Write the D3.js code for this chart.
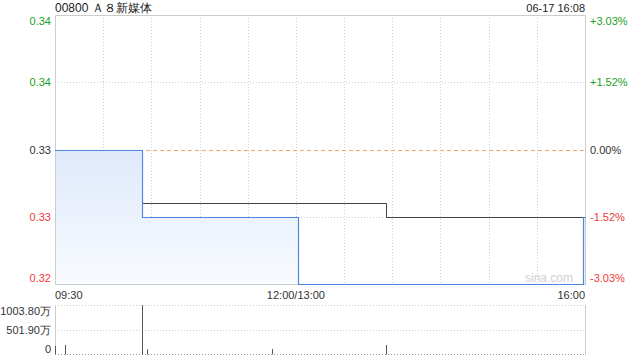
<!DOCTYPE html>
<html>
  <head>
    <meta charset="utf-8">
    <style media="screen">
      body { margin: 0; background: #fff; }
      svg { font-family: "Liberation Sans", Arial, sans-serif; }
    </style>
  </head>
  <body>
    <svg></svg>
    <script src="https://d3js.org/d3.v7.min.js"></script>
    <script type="text/javascript">

      // 分时价格 (step changes)
      var priceTimes = ["09:30", "10:24", "13:01", "15:59", "16:00"];
      var priceValues = [0.330, 0.325, 0.320, 0.325, 0.325];

      // 均价
      var avgTimes = ["09:30", "10:24", "13:56", "16:00"];
      var avgValues = [0.330, 0.3260, 0.325, 0.325];

      // 成交量 (万)
      var volTimes = ["09:30", "09:36", "10:24", "10:27", "11:45", "13:56"];
      var volValues = [164, 184, 1003.8, 96, 102, 184];

      var priceTicks = [0.34, 0.335, 0.33, 0.325, 0.32];
      var priceLabels = ["0.34", "0.34", "0.33", "0.33", "0.32"];
      var pctLabels = ["+3.03%", "+1.52%", "0.00%", "-1.52%", "-3.03%"];
      var volTicks = [1003.8, 501.9, 0];
      var volLabels = ["1003.80万", "501.90万", "0"];
      var prevClose = 0.33;

      var svgWidth = 640, svgHeight = 360;
      var plotLeft = 55, plotRight = 585, plotTop = 15, plotBottom = 284;
      var volTop = 305, volBottom = 354;

      var svg = d3.select("svg")
        .attr("width", svgWidth)
        .attr("height", svgHeight)

      // 交易分钟 -> 索引 (午休跳过)
      function minuteIndex(t) {
        var p = t.split(":"), m = +p[0] * 60 + +p[1];
        return m <= 720 ? m - 570 : m - 780 + 150;
      }

      var x = d3.scaleLinear().domain([0, 330]).range([plotLeft, plotRight])
      var y = d3.scaleLinear().domain([0.32, 0.34]).range([plotBottom, plotTop])
      var yVol = d3.scaleLinear().domain([0, 1003.8]).range([volBottom, volTop])

      var red = "#f03a3a", green = "#1aa31a", dark = "#333";
      function tickColor(v) { return v > prevClose + 1e-9 ? green : (v < prevClose - 1e-9 ? red : dark) }

      var defs = svg.append("defs")
      var grad = defs.append("linearGradient")
        .attr("id", "fill")
        .attr("x1", 0).attr("y1", 0).attr("x2", 0).attr("y2", 1)
      grad.append("stop").attr("offset", "0%").attr("stop-color", "#dfe9fa")
      grad.append("stop").attr("offset", "100%").attr("stop-color", "#f8fbff")

      // 网格
      var grid = svg.append("g")
      grid.selectAll(".vgrid")
        .data(d3.range(30, 330, 30))
        .join("line")
        .attr("x1", d => Math.round(x(d)) + 0.5)
        .attr("x2", d => Math.round(x(d)) + 0.5)
        .attr("y1", plotTop).attr("y2", plotBottom)
        .attr("stroke", "#d0d0d0")
        .attr("stroke-dasharray", "1,2")

      grid.selectAll(".hgrid")
        .data([0.335, 0.325])
        .join("line")
        .attr("x1", plotLeft).attr("x2", plotRight)
        .attr("y1", d => Math.round(y(d)) + 0.5)
        .attr("y2", d => Math.round(y(d)) + 0.5)
        .attr("stroke", "#d0d0d0")
        .attr("stroke-dasharray", "1,2")

      // 价格面积
      var pricePts = priceTimes.map((t, i) => [minuteIndex(t), priceValues[i]])
      var avgPts = avgTimes.map((t, i) => [minuteIndex(t), avgValues[i]])

      var area = d3.area()
        .curve(d3.curveStepAfter)
        .x(d => x(d[0]))
        .y0(plotBottom)
        .y1(d => Math.round(y(d[1])) + 0.5)

      svg.append("path")
        .attr("d", area(pricePts))
        .attr("fill", "url(#fill)")

      // 边框
      svg.append("path")
        .attr("d", "M" + (plotLeft + 0.5) + "," + (plotTop + 0.5) + "H" + (plotRight + 0.5) + "V" + (plotBottom + 0.5) + "H" + (plotLeft + 0.5) + "Z")
        .attr("fill", "none")
        .attr("stroke", "#ccc")

      svg.append("text")
        .attr("x", 573).attr("y", 282)
        .attr("text-anchor", "end")
        .attr("font-size", 12)
        .attr("fill", "#d0d0d0")
        .text("sina.com")

      // 昨收线
      svg.append("line")
        .attr("x1", plotLeft).attr("x2", plotRight)
        .attr("y1", Math.round(y(prevClose)) + 0.5)
        .attr("y2", Math.round(y(prevClose)) + 0.5)
        .attr("stroke", "#f4a56a")
        .attr("stroke-dasharray", "4,3")

      var line = d3.line()
        .curve(d3.curveStepAfter)
        .x(d => Math.round(x(d[0])) + 0.5)
        .y(d => Math.round(y(d[1])) + 0.5)

      svg.append("path")
        .attr("d", line(avgPts))
        .attr("fill", "none")
        .attr("stroke", "#444")
        .attr("stroke-width", 1)

      svg.append("path")
        .attr("d", line(pricePts))
        .attr("fill", "none")
        .attr("stroke", "#4f87e0")
        .attr("stroke-width", 1.2)

      // 左右刻度
      svg.selectAll(".plabel")
        .data(priceTicks)
        .join("text")
        .attr("x", 51)
        .attr("y", (d, i) => y(d) + (i == 0 ? 10 : (i == 4 ? -2 : 4)))
        .attr("text-anchor", "end")
        .attr("font-size", 11)
        .attr("fill", d => tickColor(d))
        .text((d, i) => priceLabels[i])

      svg.selectAll(".pct")
        .data(priceTicks)
        .join("text")
        .attr("x", 590)
        .attr("y", (d, i) => y(d) + (i == 0 ? 10 : (i == 4 ? -2 : 4)))
        .attr("font-size", 11)
        .attr("fill", d => tickColor(d))
        .text((d, i) => pctLabels[i])

      // 时间轴
      var timeLabels = [["09:30", 0, "start"], ["12:00/13:00", 150, "middle"], ["16:00", 330, "end"]]
      svg.selectAll(".tlabel")
        .data(timeLabels)
        .join("text")
        .attr("x", d => x(d[1]))
        .attr("y", 299)
        .attr("text-anchor", d => d[2])
        .attr("font-size", 11)
        .attr("fill", dark)
        .text(d => d[0])

      svg.append("text")
        .attr("x", plotLeft).attr("y", 12)
        .attr("font-size", 12)
        .attr("fill", "#222")
        .text("00800 Ａ８新媒体")

      svg.append("text")
        .attr("x", plotRight).attr("y", 12)
        .attr("text-anchor", "end")
        .attr("font-size", 11)
        .attr("fill", "#222")
        .text("06-17 16:08")

      // 成交量
      var vol = svg.append("g")
      vol.selectAll(".vgridline")
        .data(volTicks)
        .join("line")
        .attr("x1", plotLeft).attr("x2", plotRight)
        .attr("y1", d => Math.round(yVol(d)) + 0.5)
        .attr("y2", d => Math.round(yVol(d)) + 0.5)
        .attr("stroke", d => d == 0 ? "#999" : "#ccc")
        .attr("stroke-dasharray", "1,2")

      vol.append("line")
        .attr("x1", plotLeft + 0.5).attr("x2", plotLeft + 0.5)
        .attr("y1", volTop).attr("y2", volBottom + 1)
        .attr("stroke", "#ccc")
      vol.append("line")
        .attr("x1", plotRight + 0.5).attr("x2", plotRight + 0.5)
        .attr("y1", volTop).attr("y2", volBottom + 1)
        .attr("stroke", "#ccc")

      vol.selectAll(".bar")
        .data(volTimes)
        .join("line")
        .attr("x1", d => Math.round(x(minuteIndex(d))) + 0.5)
        .attr("x2", d => Math.round(x(minuteIndex(d))) + 0.5)
        .attr("y1", volBottom + 0.5)
        .attr("y2", (d, i) => yVol(volValues[i]))
        .attr("stroke", "#555")

      vol.selectAll(".vlabel")
        .data(volTicks)
        .join("text")
        .attr("x", 51)
        .attr("y", (d, i) => yVol(d) + (i == 0 ? 10 : (i == 2 ? -1 : 4)))
        .attr("text-anchor", "end")
        .attr("font-size", 11)
        .attr("fill", dark)
        .text((d, i) => volLabels[i])
    </script>
  </body>
</html>
